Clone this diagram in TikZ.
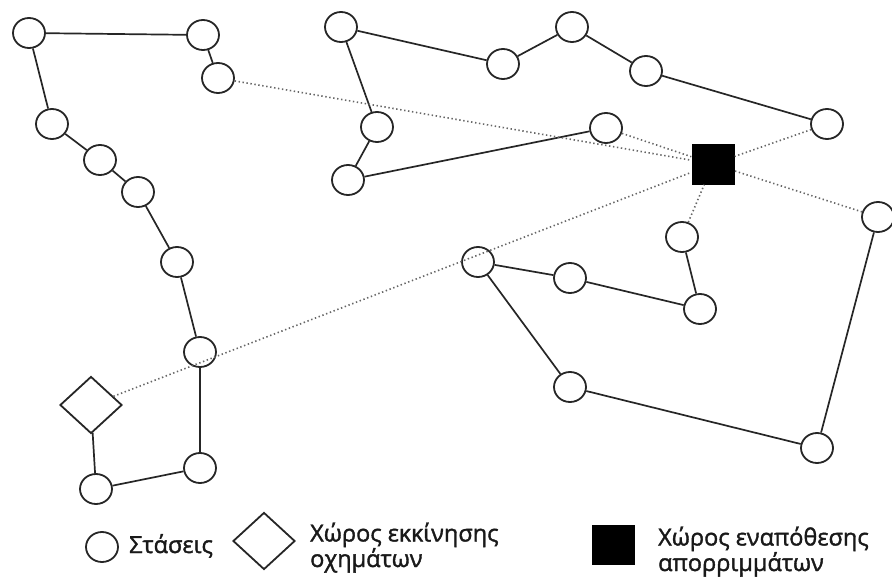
\documentclass[tikz,border=0pt]{standalone}
\usepackage{fontspec}
\setmainfont{Open Sans}
\newfontfamily\lgdfont{Open Sans}[FakeBold=1.6]
\usetikzlibrary{shapes.geometric}
\tikzset{
  stop/.style={ellipse, draw=black!85, line width=1.8pt, minimum width=32pt, minimum height=30pt, inner sep=0pt},
  depot/.style={diamond, draw=black!85, line width=1.8pt, minimum width=62pt, minimum height=57pt, inner sep=0pt},
  dump/.style={rectangle, fill=black, draw=none, minimum width=43pt, minimum height=41pt, inner sep=0pt},
  route/.style={draw=black!85, line width=1.7pt},
  link/.style={draw=black!60, line width=1.6pt, dash pattern=on 1.4pt off 2.6pt},
  lgd/.style={font=\lgdfont\fontsize{23.5}{25.5}\selectfont, inner sep=0pt, align=left, text=black!90},
}
\begin{document}
\begin{tikzpicture}[x=1pt, y=-1pt]
\useasboundingbox (0,0) rectangle (892,578);
% left tour
\node[stop] (a1) at (29,33) {};
\node[stop] (a2) at (203,35) {};
\node[stop] (a3) at (218,78) {};
\node[stop] (l1) at (52,124) {};
\node[stop] (l2) at (100,160) {};
\node[stop] (l3) at (138,192) {};
\node[stop] (l4) at (177,262) {};
\node[stop] (l5) at (200,352) {};
\node[stop] (l6) at (200,468) {};
\node[stop] (l7) at (96,489) {};
\node[depot] (d) at (91,405) {};
% middle tour
\node[stop] (b1) at (341,27) {};
\node[stop] (b2) at (377,127) {};
\node[stop] (b3) at (348,180) {};
\node[stop] (b4) at (606,128) {};
\node[stop] (b5) at (503,64) {};
\node[stop] (b6) at (572,27) {};
\node[stop] (b7) at (646,71) {};
\node[stop] (b8) at (827,124) {};
% dump site
\node[dump] (s) at (713,164) {};
% right tour
\node[stop] (c1) at (478,262) {};
\node[stop] (c2) at (570,278) {};
\node[stop] (c3) at (682,237) {};
\node[stop] (c4) at (700,309) {};
\node[stop] (c5) at (570,387) {};
\node[stop] (c6) at (817,448) {};
\node[stop] (c7) at (878,217) {};
% solid routes
\draw[route] (a1) -- (a2) (a2) -- (a3) (a1) -- (l1) (l1) -- (l2) (l2) -- (l3)
  (l3) -- (l4) (l4) -- (l5) (l5) -- (l6) (l6) -- (l7) (l7) -- (d);
\draw[route] (b1) -- (b2) (b2) -- (b3) (b3) -- (b4) (b1) -- (b5) (b5) -- (b6)
  (b6) -- (b7) (b7) -- (b8);
\draw[route] (c1) -- (c2) (c2) -- (c4) (c4) -- (c3) (c1) -- (c5) (c5) -- (c6) (c6) -- (c7);
% dotted links to dump
\draw[link] (a3) -- (s);
\draw[link] (b4) -- (s);
\draw[link] (b8) -- (s);
\draw[link] (c7) -- (s);
\draw[link] (c3) -- (s);
\draw[link] (d) -- (s);
% legend
\node[stop] (lc) at (102,547) {};
\node[lgd, anchor=base west] (lct) at (129,553) {Στάσεις};
\node[depot] (ld) at (264,541) {};
\node[lgd, anchor=base west] (ldt) at (310,567) {Χώρος εκκίνησης\\οχημάτων};
\node[dump, minimum height=40pt] (ls) at (613,545) {};
\node[lgd, anchor=base west] (lst) at (658,571) {Χώρος εναπόθεσης\\απορριμμάτων};
\end{tikzpicture}
\end{document}
